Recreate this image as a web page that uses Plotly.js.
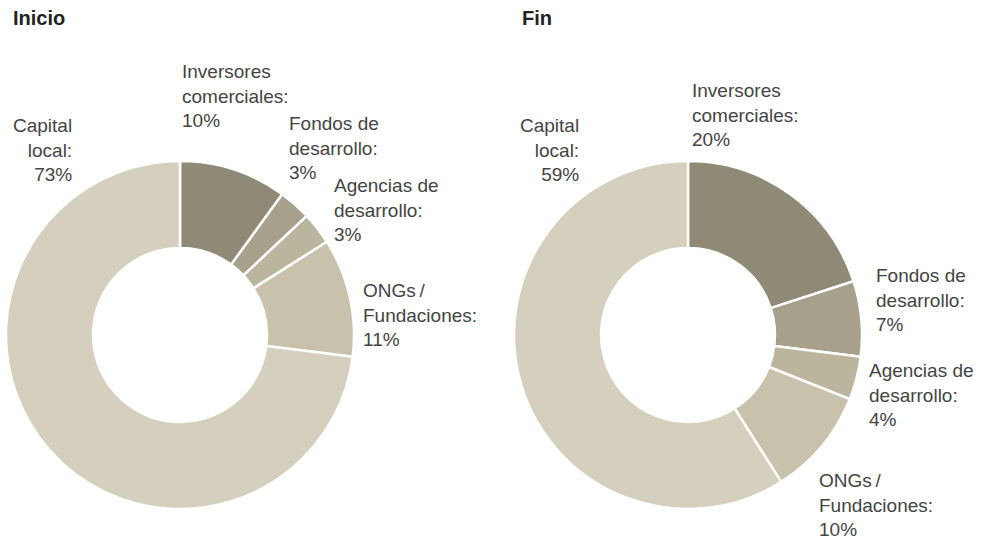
<!DOCTYPE html>
<html>
<head>
<meta charset="utf-8">
<script src="https://cdn.plot.ly/plotly-3.0.1.min.js"></script>
<style>
  html, body { margin: 0; padding: 0; background: #fff; }
  #chart { width: 983px; height: 544px; }
</style>
</head>
<body>
<div id="chart"></div>
<script>
// Financing sources, share of total (%)
const categories = ['Inversores comerciales', 'Fondos de desarrollo', 'Agencias de desarrollo', 'ONGs / Fundaciones', 'Capital local'];
const labelText = ['Inversores<br>comerciales', 'Fondos de<br>desarrollo', 'Agencias de<br>desarrollo', 'ONGs\u2009/<br>Fundaciones', 'Capital<br>local'];
const inicioValues = [10, 3, 3, 11, 73];
const finValues = [20, 7, 4, 10, 59];
const sliceColors = ['#8f8a76', '#a7a18b', '#bcb59e', '#c8c2ad', '#d5d0bd'];

const W = 983, H = 544;
const px = x => x / W;
const py = y => 1 - y / H;

// label placement (pixels): [x, y, anchor]
const inicioLabelPos = [[180, 96, 'left'], [287, 148, 'left'], [332, 210, 'left'], [361, 315, 'left'], [74, 150, 'right']];
const finLabelPos = [[690, 115, 'left'], [874, 300, 'left'], [867, 395, 'left'], [817, 505, 'left'], [581, 150, 'right']];

function pieTrace(values, xDom) {
    return {
        type: 'pie',
        labels: categories,
        values: values,
        sort: false,
        direction: 'clockwise',
        rotation: 0,
        hole: 0.5,
        textinfo: 'none',
        hoverinfo: 'label+percent',
        marker: { colors: sliceColors, line: { color: '#ffffff', width: 2.5 } },
        domain: { x: [px(xDom[0]), px(xDom[1])], y: [py(509), py(161)] },
        showlegend: false
    };
}

function labelAnnotations(values, pos) {
    return values.map((v, i) => ({
        xref: 'paper', yref: 'paper',
        x: px(pos[i][0]), y: py(pos[i][1]),
        xanchor: pos[i][2], yanchor: 'middle',
        align: pos[i][2],
        text: labelText[i] + ':<br>' + v + '%',
        showarrow: false,
        font: { family: 'Liberation Sans, Arial, sans-serif', size: 19, color: '#444' }
    }));
}

const titleFont = { family: 'Liberation Sans, Arial, sans-serif', size: 20, color: '#222' };

const layout = {
    width: W,
    height: H,
    margin: { l: 0, r: 0, t: 0, b: 0 },
    paper_bgcolor: '#ffffff',
    showlegend: false,
    annotations: [
        { xref: 'paper', yref: 'paper', x: px(11), y: py(18), xanchor: 'left', yanchor: 'middle',
          text: '<b>Inicio</b>', showarrow: false, font: titleFont },
        { xref: 'paper', yref: 'paper', x: px(520), y: py(18), xanchor: 'left', yanchor: 'middle',
          text: '<b>Fin</b>', showarrow: false, font: titleFont }
    ].concat(labelAnnotations(inicioValues, inicioLabelPos), labelAnnotations(finValues, finLabelPos))
};

Plotly.newPlot('chart', [pieTrace(inicioValues, [6, 354]), pieTrace(finValues, [514, 862])], layout, { displayModeBar: false });
</script>
</body>
</html>
